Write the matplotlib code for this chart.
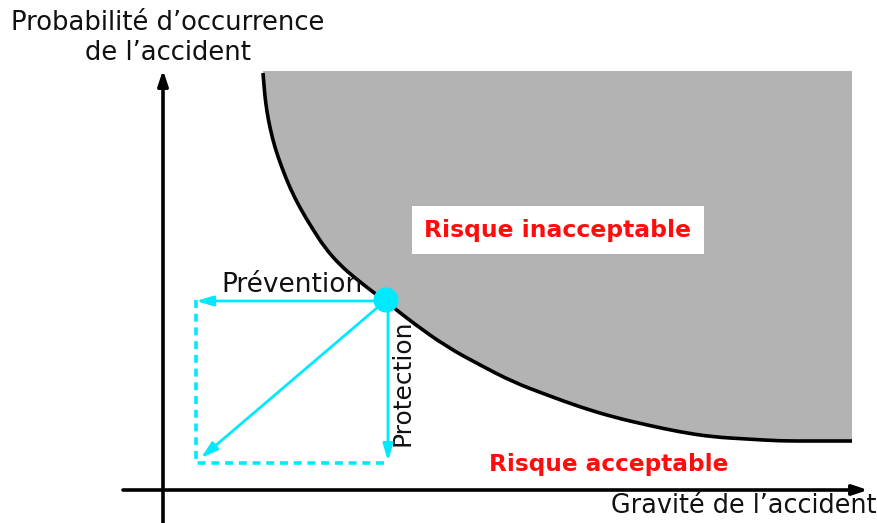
import matplotlib
matplotlib.use("Agg")
import matplotlib.pyplot as plt
from matplotlib.patches import Circle, PathPatch
from matplotlib.path import Path

# limit curve between acceptable / unacceptable risk (pixel-like units, y down)
curve_x = [263, 264, 265, 267, 270, 275, 282, 290, 300, 312, 325, 340, 355, 373,
           393, 413, 447, 480, 513, 547, 580, 613, 647, 680, 713, 747, 780, 813, 852]
curve_y = [73, 85, 97, 112, 128, 148, 168, 188, 208, 228, 248, 265, 278, 292,
           307, 323, 347, 365, 382, 395, 407, 417, 425, 432, 437, 439, 441, 441, 441]
zone_top = 71
zone_right = 852

# risk point and the two reduction moves
risk_pt = (386, 300)
prevention_to = 196
protection_to = 463

labels = {
    "y_axis": "Probabilité d\u2019occurrence\nde l\u2019accident",
    "x_axis": "Gravité de l\u2019accident",
    "prev": "Prévention",
    "prot": "Protection",
    "bad": "Risque inacceptable",
    "good": "Risque acceptable",
}

CYAN = "#00eaff"
RED = "#ff0d0d"
plt.rcParams["font.family"] = ["DejaVu Sans"]


def smooth_path(xs, ys):
    """Quadratic bezier through midpoints, read points used as control points."""
    pts = list(zip(xs, ys))
    verts = [pts[0]]
    codes = [Path.MOVETO]
    for i in range(1, len(pts) - 1):
        mid = ((pts[i][0] + pts[i + 1][0]) / 2, (pts[i][1] + pts[i + 1][1]) / 2)
        if i == len(pts) - 2:
            mid = pts[-1]
        verts += [pts[i], mid]
        codes += [Path.CURVE3, Path.CURVE3]
    return verts, codes


fig = plt.figure(figsize=(8.78, 5.23), dpi=100)
ax = fig.add_axes([0, 0, 1, 1])
ax.set_xlim(0, 878)
ax.set_ylim(523, 0)
ax.axis("off")

verts, codes = smooth_path(curve_x, curve_y)
# gray unacceptable zone
zone = Path(verts + [(zone_right, zone_top), (curve_x[0], zone_top), verts[0]],
            codes + [Path.LINETO, Path.LINETO, Path.CLOSEPOLY])
ax.add_patch(PathPatch(zone, facecolor="#b3b3b3", edgecolor="none", zorder=1))
ax.add_patch(PathPatch(Path(verts, codes), facecolor="none", edgecolor="black", lw=2.6,
                       capstyle="butt", zorder=2))

# axes arrows
ax.annotate("", xy=(163, 70), xytext=(163, 523),
            arrowprops=dict(arrowstyle="-|>,head_length=0.9,head_width=0.3",
                            color="black", lw=2.6, shrinkA=0, shrinkB=0))
ax.annotate("", xy=(868, 490), xytext=(123, 490),
            arrowprops=dict(arrowstyle="-|>,head_length=0.9,head_width=0.3",
                            color="black", lw=2.6, shrinkA=0, shrinkB=0))

# dashed rectangle sides
px, py = risk_pt
ax.plot([prevention_to, prevention_to, px], [py, protection_to, protection_to],
        color=CYAN, lw=2.6, ls=(0, (2.2, 1.6)), zorder=3)

arrow_kw = dict(arrowstyle="-|>,head_length=1.0,head_width=0.3", color=CYAN, lw=2.0,
                shrinkA=0, shrinkB=0)
ax.annotate("", xy=(prevention_to, py + 1), xytext=(px, py + 1), arrowprops=arrow_kw,
            zorder=4)
ax.annotate("", xy=(px + 2, protection_to - 2), xytext=(px + 2, py), arrowprops=arrow_kw,
            zorder=4)
ax.annotate("", xy=(prevention_to + 5, protection_to - 5), xytext=(px - 8, py + 7),
            arrowprops=arrow_kw, zorder=4)
ax.add_patch(Circle(risk_pt, 12.5, facecolor=CYAN, edgecolor="none", zorder=5))

# texts
ax.text(168, 38, labels["y_axis"], ha="center", va="center", fontsize=18.6,
        linespacing=1.22, color="#111111")
ax.text(877, 506, labels["x_axis"], ha="right", va="center", fontsize=18.4,
        color="#111111")
ax.text(292, 285, labels["prev"], ha="center", va="center", fontsize=19, color="#111111")
ax.text(403, 383, labels["prot"], ha="center", va="center", fontsize=18, rotation=90,
        color="#111111")
ax.text(558, 230, labels["bad"], ha="center", va="center", fontsize=16.9,
        fontweight="bold", color=RED, zorder=6,
        bbox=dict(boxstyle="square,pad=0.52", facecolor="white", edgecolor="none"))
ax.text(609, 465, labels["good"], ha="center", va="center", fontsize=16.7,
        fontweight="bold", color=RED)

fig.savefig("out.png", dpi=100)
